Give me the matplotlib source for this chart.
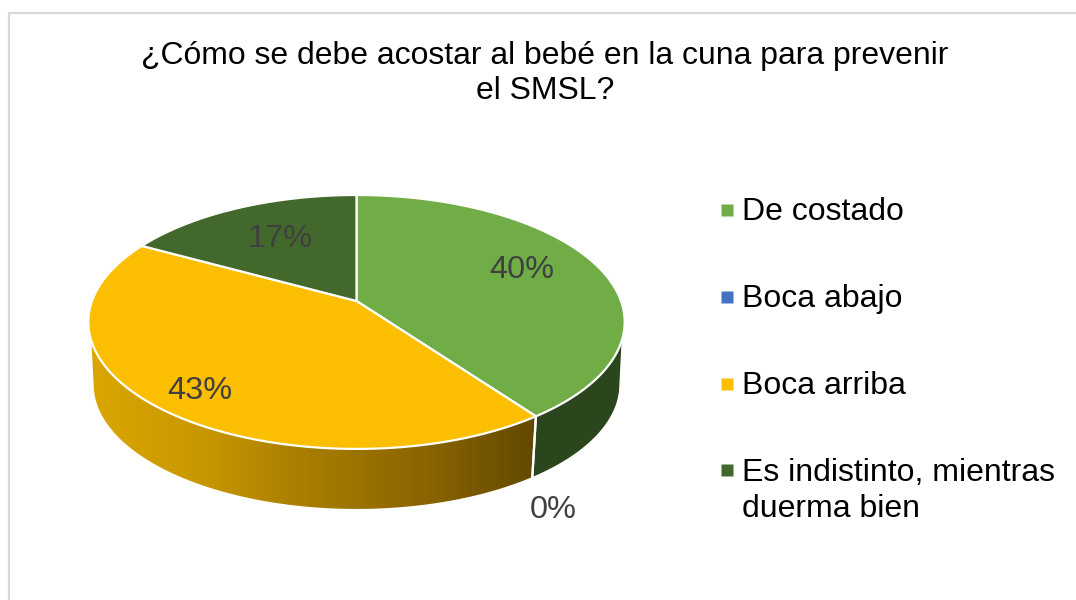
import numpy as np
import matplotlib
matplotlib.use("Agg")
import matplotlib.pyplot as plt
from matplotlib.colors import LinearSegmentedColormap
from matplotlib.patches import Polygon

categories = ["De costado", "Boca abajo", "Boca arriba", "Es indistinto, mientras\nduerma bien"]
values = [40, 0, 43, 17]
value_labels = ["40%", "0%", "43%", "17%"]
title_text = "¿Cómo se debe acostar al bebé en la cuna para prevenir\nel SMSL?"

top_colors = ["#70AD47", "#4472C4", "#FBBE00", "#43682B"]
wall_colors = ["#2B451C", "#27426F", None, "#2B451C"]
label_pos = [(522, 270), (553, 510), (200, 391), (280, 239)]
legend_y = [210, 297, 384, 470]
legend_text_y = [212, 299, 386, 491]

plt.rcParams["font.family"] = ["Liberation Sans", "DejaVu Sans"]
fig = plt.figure(figsize=(10.76, 6.0), dpi=100)
ax = fig.add_axes([0, 0, 1, 1])
ax.set_xlim(0, 1076)
ax.set_ylim(600, 0)
ax.axis("off")

# chart frame (only left and top are inside the crop)
ax.plot([9, 9, 1076], [600, 12.5, 12.5], color="#D9D9D9", lw=1.6, solid_joinstyle="miter")

CX, CY, RX, RY, K = 356.5, 301.0, 264.5, 123.5, 0.165
S, DY = 0.98, 63.0


def rim(deg, scale=1.0, dy=0.0):
    t = np.radians(np.asarray(deg, dtype=float))
    w = 1 + K * np.cos(t)
    return (CX + scale * RX * np.sin(t) / w, CY + dy - scale * RY * np.cos(t) / w)


edges = np.concatenate([[0], np.cumsum(values)]) * 360.0 / sum(values)
VIS0, VIS1 = 108.0, 252.0

# side walls
for i, col in enumerate(wall_colors):
    a, b = max(edges[i], VIS0), min(edges[i + 1], VIS1)
    if b <= a or values[i] == 0:
        continue
    ang = np.linspace(a, b, 120)
    x0, y0 = rim(ang)
    low_a = a - 8 if a == VIS0 else a
    low_b = b + 8 if b == VIS1 else b
    x1, y1 = rim(np.linspace(low_b, low_a, 120), S, DY)
    xy = np.column_stack([np.r_[x0, x1], np.r_[y0, y1]])
    poly = Polygon(xy, closed=True, fc=col if col else "none", ec="none", zorder=2)
    ax.add_patch(poly)
    if col is None:
        cmap = LinearSegmentedColormap.from_list(
            "wall", ["#DBA600", "#C89700", "#A67C00", "#8A6500", "#634900"])
        im = ax.imshow(np.linspace(0, 1, 256)[None, :], cmap=cmap, aspect="auto",
                       extent=(xy[:, 0].min(), xy[:, 0].max(), 520, 330), zorder=2)
        im.set_clip_path(poly)
        ax.set_xlim(0, 1076)
        ax.set_ylim(600, 0)

# white seam between wall segments
for e in edges[1:-1]:
    if VIS0 < e < VIS1:
        p0, p1 = rim(e), rim(e, S, DY)
        ax.plot([p0[0], p1[0]], [p0[1], p1[1]], color="white", lw=1.6, zorder=3)

# top faces
for i, col in enumerate(top_colors):
    if values[i] == 0:
        continue
    ang = np.linspace(edges[i], edges[i + 1], 200)
    x, y = rim(ang)
    xy = np.column_stack([np.r_[CX, x], np.r_[CY, y]])
    ax.add_patch(Polygon(xy, closed=True, fc=col, ec="white", lw=1.6, joinstyle="round", zorder=4))

# data labels
for txt, (x, y) in zip(value_labels, label_pos):
    ax.text(x, y, txt, ha="center", va="center", fontsize=23.4, color="#404040", zorder=5)

# title
ax.text(545, 73.5, title_text, ha="center", va="center", fontsize=22.95,
        color="black", linespacing=1.22, zorder=5)

# legend
for name, col, my, ty in zip(categories, top_colors, legend_y, legend_text_y):
    ax.plot([726.5], [my], marker="s", ms=8.2, mfc=col, mec="none", ls="none", zorder=5)
    ax.text(742, ty, name, ha="left", va="center", fontsize=23.0, color="black",
            linespacing=1.22, zorder=5)

fig.savefig("out.png", dpi=100, facecolor="white")
